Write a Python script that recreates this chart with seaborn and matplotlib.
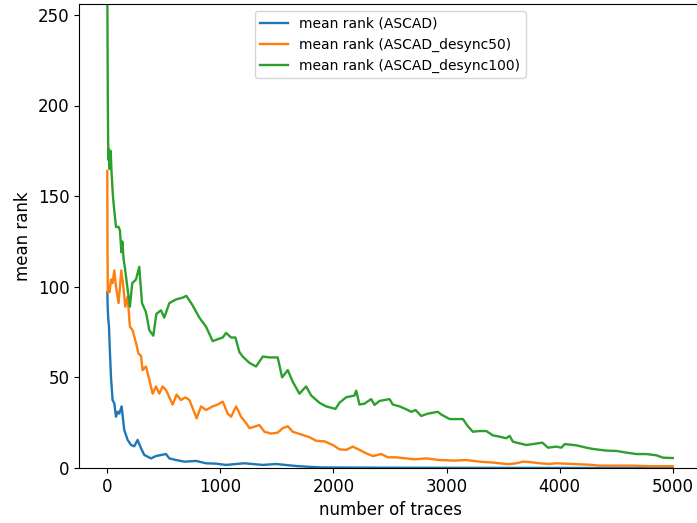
import numpy as np
import pandas as pd
import matplotlib
matplotlib.use("Agg")
import matplotlib.pyplot as plt
import seaborn as sns

# valores (numero de trazas -> rango medio)
ascad_x = [0, 1, 3, 8, 15, 24, 33, 47, 62, 77, 92, 106, 127, 150, 180, 210, 239, 268, 298, 327,
           387, 431, 519, 549, 608, 681, 785, 873, 962, 1050, 1212, 1375, 1493, 1670, 1800,
           1900, 2200, 3000, 4000, 5000]
ascad_y = [97, 96, 90, 83, 78, 63, 50, 37.5, 35.7, 28.3, 31, 30, 34, 21, 15.5, 12.7, 12, 15.5, 10.9, 7.2,
           5.3, 6.6, 7.7, 5.3, 4.4, 3.5, 3.9, 2.6, 2.4, 1.7, 2.6, 1.7, 2.2, 1.1, 0.6,
           0.3, 0.2, 0.1, 0.05, 0]

desync50_x = [0, 2, 5, 12, 20, 33, 47, 62, 77, 100, 124, 142, 159, 180, 200, 224, 254, 277, 298, 312,
              342, 372, 401, 431, 460, 490, 519, 549, 578, 613, 652, 690, 726, 755, 790, 829, 873,
              932, 976, 1021, 1065, 1095, 1139, 1183, 1228, 1257, 1301, 1345, 1389, 1449, 1507,
              1552, 1596, 1640, 1699, 1788, 1847, 1920, 1994, 2053, 2112, 2171, 2230, 2289, 2348,
              2422, 2481, 2555, 2643, 2717, 2820, 2938, 3071, 3174, 3292, 3410, 3528, 3558, 3617,
              3676, 3735, 3823, 3912, 3971, 4118, 4266, 4354, 4502, 4649, 4797, 5000]
desync50_y = [164, 120, 97, 99, 97, 104, 102, 109, 100, 91, 109, 100, 89, 94.5, 78, 76, 69, 63, 62, 54,
              56, 48.6, 41, 45, 41, 45, 43, 39, 35, 40.5, 37.5, 39, 37.5, 33, 27.4, 34, 32,
              34, 35, 36.6, 30, 28.3, 34, 28.3, 24.7, 22, 22.8, 23.7, 20, 19, 19.5,
              22, 23, 20, 18.8, 17, 15, 14.7, 12.7, 10.3, 10, 11.8, 10, 8.1, 6.6,
              7.7, 5.9, 5.9, 5.3, 4.8, 5.3, 4.4, 4.1, 4.4, 3.5, 3, 2.2, 2.2, 2.6,
              3.5, 3.3, 2.6, 2.2, 2.6, 2.2, 1.8, 1.3, 1.3, 1.3, 1.0, 1.0]

desync100_x = [0, 5, 9, 14, 20, 30, 38, 50, 62, 77, 100, 112, 125, 133, 145, 159, 177, 200, 221, 254,
               283, 307, 342, 372, 407, 434, 475, 504, 549, 608, 667, 699, 752, 814, 873, 932, 975,
               1021, 1050, 1095, 1133, 1168, 1197, 1257, 1316, 1375, 1434, 1507, 1546, 1596, 1640,
               1699, 1758, 1803, 1876, 1935, 2018, 2053, 2112, 2186, 2201, 2230, 2274, 2334, 2363,
               2407, 2496, 2525, 2584, 2643, 2688, 2726, 2776, 2835, 2923, 2953, 3027, 3086, 3145,
               3189, 3233, 3292, 3351, 3410, 3469, 3528, 3558, 3587, 3646, 3705, 3764, 3847, 3897,
               3971, 4015, 4045, 4148, 4237, 4295, 4413, 4502, 4590, 4679, 4767, 4856, 4915, 5000]
desync100_y = [270, 200, 170, 176, 165, 175, 163, 150, 142, 133, 133, 131, 119, 125, 115, 109, 100, 89, 102, 104,
               111, 91, 86, 76, 73, 85, 87, 83, 91, 93, 94, 95, 90, 83, 78, 70, 71,
               72, 74.5, 72, 72, 64, 61.5, 58, 56, 61.5, 61, 61, 50, 54, 47.6,
               41, 45, 40, 36, 34, 32.6, 36, 39, 40, 42.7, 35, 35.5, 38, 34.8,
               37, 38, 35, 34, 32.4, 31, 32, 28.7, 30, 31, 29.5, 27, 27, 27,
               23, 20, 20.4, 20.4, 18, 17.3, 16.4, 17.7, 14.5, 13.6, 12.7, 13.2, 14, 11.2,
               11.8, 11.2, 13.2, 12.5, 11.2, 10.5, 9.6, 9.4, 8.5, 7.7, 7.7, 7, 5.7, 5.5]

series = [
    ("mean rank (ASCAD)", ascad_x, ascad_y, "tab:blue"),
    ("mean rank (ASCAD_desync50)", desync50_x, desync50_y, "tab:orange"),
    ("mean rank (ASCAD_desync100)", desync100_x, desync100_y, "tab:green"),
]

fig = plt.figure(figsize=(6.97, 5.23), dpi=100)
ax = fig.add_axes([79 / 697, 55 / 523, 622 / 697, 464 / 523])

for nombre, xs, ys, color in series:
    sns.lineplot(x=xs, y=ys, ax=ax, color=color, linewidth=1.7, label=nombre)

ax.set_xlim(-250, 5250)
ax.set_ylim(0, 256)
ax.set_xticks([0, 1000, 2000, 3000, 4000, 5000])
ax.set_yticks([0, 50, 100, 150, 200, 250])
ax.tick_params(labelsize=12)
ax.set_xlabel("number of traces", fontsize=12)
ax.set_ylabel("mean rank", fontsize=12)
ax.legend(loc="upper center", fontsize=10)

fig.savefig("out.png", dpi=100)
